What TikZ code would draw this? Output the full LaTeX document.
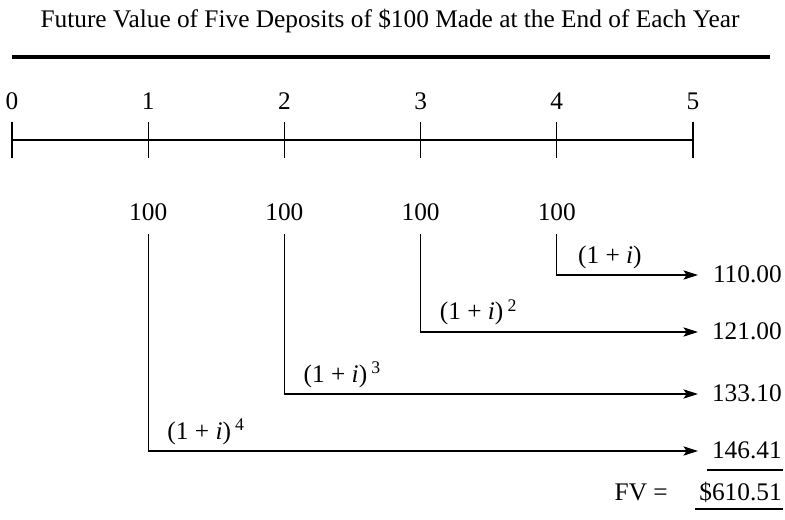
\documentclass[tikz,border=0pt]{standalone}
\usepackage{fontspec}
\setmainfont{Liberation Serif}
\usetikzlibrary{arrows.meta,positioning,calc}

\begin{document}
\begin{tikzpicture}[
    x=0.75pt, y=-0.75pt,
    every node/.style={font=\fontsize{19}{23}\selectfont, inner sep=0pt},
    axis/.style={line width=0.8pt},
    arrow/.style={-{Stealth[length=11pt, width=7pt, inset=2.5pt]}, line width=0.8pt},
    rule/.style={line width=2.4pt},
    value/.style={anchor=base east},
    rate/.style={anchor=base west}
]
\useasboundingbox (0,0) rectangle (785,520);

% Title
\node[anchor=base] (title) at (390,28) {Future Value of Five Deposits of \$100 Made at the End of Each Year};
\coordinate (ruleL) at (12,57);
\coordinate (ruleR) at (770,57);
\draw[rule] (ruleL) -- (ruleR);

% Time line
\foreach \n in {0,...,5} {
  \coordinate (t\n) at (12+136.2*\n,140);
  \node (n\n) at (12+136.2*\n,101) {\n};
  \draw[axis] ($(t\n)+(0,-18)$) -- ($(t\n)+(0,18)$);
}
\draw[axis] (t0) -- (t5);

% Deposits carried forward to year 5
\foreach \n/\yy/\amt in {1/451/146.41, 2/394/133.10, 3/332/121.00, 4/275/110.00} {
  \pgfmathtruncatemacro{\ex}{5-\n}
  \node (d\n) at (12+136.2*\n,212) {100};
  \coordinate (e\n) at (698,\yy);
  \coordinate (c\n) at (12+136.2*\n,\yy);
  \node[value] (v\n) at (782,\yy+7) {\amt};
  \draw[arrow] ($(d\n.south)+(0,13)$) |- (e\n);
  \ifnum\ex=1
    \node[rate] (r\n) at ($(c\n)+(21,-12)$) {(1 + \textit{i})};
  \else
    \node[rate] (r\n) at ($(c\n)+(19,-12)$) {(1 + \textit{i})\,\textsuperscript{\ex}};
  \fi
}

% Sum
\draw[axis] ($(v1.base west)+(-5,12)$) -- ($(v1.base east)+(1,12)$);
\node[value] (fv) at (782,500) {\$610.51};
\node[anchor=base east] (fvlabel) at (668,500) {FV =};
\draw[axis] ($(fv.base west)+(-4,9)$) -- ($(fv.base east)+(1,9)$);

\end{tikzpicture}
\end{document}
